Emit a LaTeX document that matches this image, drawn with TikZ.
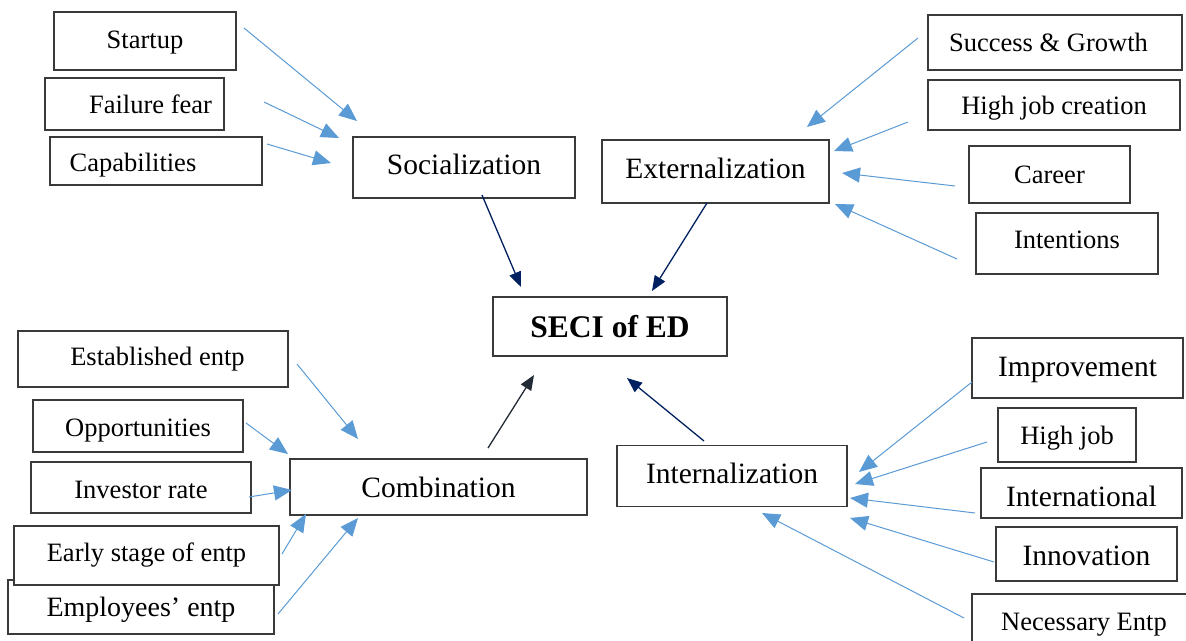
\documentclass[tikz,border=0pt]{standalone}
\usepackage{fontspec}
\setmainfont{Liberation Serif}
\usetikzlibrary{arrows.meta}
\definecolor{lblue}{HTML}{5B9BD5}
\definecolor{navy}{HTML}{002060}
\definecolor{slate}{HTML}{222A35}
\definecolor{boxline}{HTML}{3A3A3A}
\newcommand\txtraise[2]{\raisebox{#1}[\height][\depth]{#2}}
\begin{document}
\begin{tikzpicture}[x=1pt,y=-1pt,
 box/.style={draw=boxline, line width=1.2pt, fill=white, inner sep=0pt, anchor=center, text=black},
 small/.style={font=\fontsize{26.5}{30}\selectfont},
 big/.style={font=\fontsize{29.5}{33}\selectfont},
 feed/.style={draw=lblue, line width=1pt, -{Triangle[length=18pt,width=15pt]}},
 core/.style={draw=navy, line width=1.3pt, -{Triangle[length=15pt,width=12pt]}},
]
\clip (0,0) rectangle (1186,640);
\fill[white] (0,0) rectangle (1186,640);

% left top group
\node[box, small, minimum width=182pt, minimum height=58pt] (startup) at (145,41) {\txtraise{-2pt}{Startup}};
\node[box, small, minimum width=179pt, minimum height=52pt] (failure) at (134.5,104) {\hspace*{32pt}Failure fear};
\node[box, small, minimum width=212pt, minimum height=48pt] (capab) at (156,161) {\txtraise{-4pt}{Capabilities}\hspace*{46pt}};
\node[box, big, minimum width=222pt, minimum height=61pt] (social) at (464,167.5) {\txtraise{3pt}{Socialization}};

% right top group
\node[box, big, minimum width=227pt, minimum height=63pt] (extern) at (715.5,171.5) {\txtraise{3pt}{Externalization}};
\node[box, small, minimum width=254pt, minimum height=55pt] (success) at (1055,42.5) {Success \& Growth\hspace*{13pt}};
\node[box, small, minimum width=252pt, minimum height=50pt] (highjc) at (1054,105) {\txtraise{-3pt}{High job creation}};
\node[box, small, minimum width=161pt, minimum height=57pt] (career) at (1049.5,174.5) {Career};
\node[box, small, minimum width=182pt, minimum height=61pt] (intent) at (1067,243.5) {\txtraise{4pt}{Intentions}};

% centre
\node[box, font=\fontsize{31.5}{35}\selectfont\bfseries, minimum width=234pt, minimum height=59pt] (seci) at (610,326.5) {SECI of ED};

% left bottom group
\node[box, small, minimum width=270pt, minimum height=56pt] (estab) at (153,359) {\hspace*{9pt}Established entp};
\node[box, small, minimum width=210pt, minimum height=52pt] (opport) at (138,426) {\txtraise{-5pt}{Opportunities}};
\node[box, small, minimum width=220pt, minimum height=51pt] (invest) at (141,487.5) {\txtraise{-2pt}{Investor rate}};
\node[box, big, minimum width=297pt, minimum height=56pt] (combin) at (438.5,487) {Combination};
\node[box, font=\fontsize{28}{32}\selectfont, minimum width=266pt, minimum height=54pt] (employ) at (141,607) {\txtraise{-3pt}{Employees’ entp}};
\node[box, small, minimum width=265pt, minimum height=59pt] (early) at (146.5,555.5) {Early stage of entp};

% right bottom group
\node[box, big, minimum width=230pt, minimum height=61pt] (intern) at (732,476) {\txtraise{3pt}{Internalization}};
\node[box, big, minimum width=211pt, minimum height=60pt] (improv) at (1077.5,368) {\txtraise{-2pt}{Improvement}};
\node[box, small, minimum width=138pt, minimum height=54pt] (highjob) at (1067,435) {\txtraise{-3pt}{High job}};
\node[box, big, minimum width=201pt, minimum height=50pt] (internat) at (1081.5,493) {\txtraise{-3pt}{International}};
\node[box, big, minimum width=181pt, minimum height=54pt] (innov) at (1086.5,554) {\txtraise{-2pt}{Innovation}};
\node[box, small, minimum width=224pt, minimum height=56pt] (necess) at (1084,622) {\txtraise{-3pt}{Necessary Entp}};

% connector end points
\coordinate (startup-t) at (244,28);   \coordinate (startup-h) at (357,121);
\coordinate (failure-t) at (264,102);  \coordinate (failure-h) at (339,138);
\coordinate (capab-t) at (267,144);    \coordinate (capab-h) at (331,163);
\coordinate (social-t) at (482,195);   \coordinate (social-h) at (521,287);

\coordinate (success-t) at (918,38);   \coordinate (success-h) at (807,127);
\coordinate (highjc-t) at (908,122);   \coordinate (highjc-h) at (834,151);
\coordinate (career-t) at (955,186);   \coordinate (career-h) at (842,173);
\coordinate (intent-t) at (957,259);   \coordinate (intent-h) at (835,204);
\coordinate (extern-t) at (707,203);   \coordinate (extern-h) at (652,291);

\coordinate (estab-t) at (297,364);    \coordinate (estab-h) at (358,439);
\coordinate (opport-t) at (246,423);   \coordinate (opport-h) at (288,454);
\coordinate (invest-t) at (249,497);   \coordinate (invest-h) at (292,490);
\coordinate (early-t) at (282,554);    \coordinate (early-h) at (306,514);
\coordinate (employ-t) at (278,614);   \coordinate (employ-h) at (358,518);
\coordinate (combin-t) at (488,448);   \coordinate (combin-h) at (534,375);

\coordinate (intern-t) at (704,441);   \coordinate (intern-h) at (627,378);
\coordinate (improv-t) at (972,382);   \coordinate (improv-h) at (859,472);
\coordinate (highjob-t) at (987,442);  \coordinate (highjob-h) at (855,484);
\coordinate (internat-t) at (975,513); \coordinate (internat-h) at (850,498);
\coordinate (innov-t) at (994,562);    \coordinate (innov-h) at (850,518);
\coordinate (necess-t) at (964,618);   \coordinate (necess-h) at (762,513);

% connectors
\draw[feed] (startup-t) -- (startup-h);
\draw[feed] (failure-t) -- (failure-h);
\draw[feed] (capab-t) -- (capab-h);
\draw[core] (social-t) -- (social-h);

\draw[feed] (success-t) -- (success-h);
\draw[feed] (highjc-t) -- (highjc-h);
\draw[feed] (career-t) -- (career-h);
\draw[feed] (intent-t) -- (intent-h);
\draw[core] (extern-t) -- (extern-h);

\draw[feed] (estab-t) -- (estab-h);
\draw[feed] (opport-t) -- (opport-h);
\draw[feed] (invest-t) -- (invest-h);
\draw[feed] (early-t) -- (early-h);
\draw[feed] (employ-t) -- (employ-h);
\draw[core, draw=slate] (combin-t) -- (combin-h);

\draw[core] (intern-t) -- (intern-h);
\draw[feed] (improv-t) -- (improv-h);
\draw[feed] (highjob-t) -- (highjob-h);
\draw[feed] (internat-t) -- (internat-h);
\draw[feed] (innov-t) -- (innov-h);
\draw[feed] (necess-t) -- (necess-h);
\end{tikzpicture}
\end{document}
